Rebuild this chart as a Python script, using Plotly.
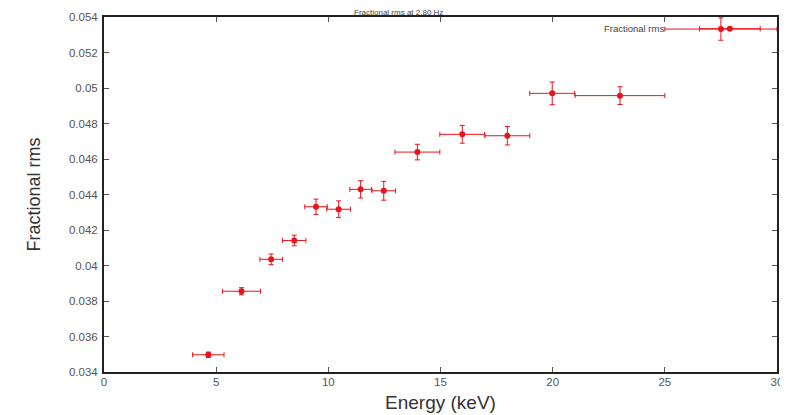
import plotly.graph_objects as go

# Data
energy = [4.65, 6.13, 7.45, 8.48, 9.45, 10.46, 11.44, 12.47, 13.97, 15.97, 17.98, 19.98, 23.0, 27.5]
energy_err = [0.7, 0.85, 0.5, 0.52, 0.5, 0.53, 0.48, 0.52, 1.0, 1.0, 1.0, 1.0, 2.0, 2.5]
frac_rms = [0.03497, 0.03855, 0.04035, 0.04141, 0.04331, 0.04317, 0.04429, 0.04421,
            0.04639, 0.04739, 0.04731, 0.04970, 0.04957, 0.05332]
frac_rms_err = [0.00015, 0.0002, 0.0003, 0.0003, 0.00043, 0.00047, 0.00049, 0.00053,
                0.00044, 0.0005, 0.00052, 0.00064, 0.0005, 0.00063]

x_ticks = [0, 5, 10, 15, 20, 25, 30]
y_ticks = [0.034, 0.036, 0.038, 0.04, 0.042, 0.044, 0.046, 0.048, 0.05, 0.052, 0.054]
y_tick_labels = ["0.034", "0.036", "0.038", "0.04", "0.042", "0.044", "0.046",
                 "0.048", "0.05", "0.052", "0.054"]

RED = "#e8141c"
FONT = "Liberation Sans"

fig = go.Figure()
fig.add_trace(go.Scatter(
    x=energy, y=frac_rms,
    mode="markers",
    marker=dict(color=RED, size=6, symbol="circle"),
    error_x=dict(type="data", array=energy_err, color=RED, thickness=1, width=2.5),
    error_y=dict(type="data", array=frac_rms_err, color=RED, thickness=1, width=2.5),
    name="Fractional rms",
    showlegend=False,
))

# key (gnuplot style: text then sample)
key_y = 0.967
fig.add_annotation(text="Fractional rms", xref="paper", yref="paper",
                   x=0.835, y=key_y, xanchor="right", yanchor="middle",
                   showarrow=False, font=dict(family=FONT, size=9.5, color="#444"))
fig.add_shape(type="line", xref="paper", yref="paper", x0=0.885, x1=0.975, y0=key_y, y1=key_y,
              line=dict(color=RED, width=1))
for xx in (0.885, 0.975):
    fig.add_shape(type="line", xref="paper", yref="paper", x0=xx, x1=xx,
                  y0=key_y - 0.008, y1=key_y + 0.008, line=dict(color=RED, width=1))
fig.add_shape(type="circle", xref="paper", yref="paper", x0=0.9255, x1=0.9345,
              y0=key_y - 0.0085, y1=key_y + 0.0085, fillcolor=RED, line=dict(color=RED, width=0))

# title in the narrow strip above the plot
fig.add_annotation(text="Fractional rms at 2.80 Hz", xref="paper", yref="paper",
                   x=0.438, y=1.0, xanchor="center", yanchor="middle", yshift=5,
                   showarrow=False, font=dict(family=FONT, size=8, color="#444"))

axis_common = dict(
    showline=True, linecolor="#222", linewidth=2, mirror="ticks",
    ticks="inside", ticklen=5, tickcolor="#555", tickwidth=1,
    showgrid=False, zeroline=False, automargin=False,
    tickfont=dict(family=FONT, size=11.5, color="#555"),
)

fig.update_xaxes(range=[0, 30], tickvals=x_ticks, ticklabelstandoff=-2,
                 title=dict(text="Energy (keV)", font=dict(family=FONT, size=19, color="#333"),
                            standoff=9),
                 **axis_common)
fig.update_yaxes(range=[0.034, 0.054], tickvals=y_ticks, ticktext=y_tick_labels,
                 ticklabelstandoff=2,
                 title=dict(text="Fractional rms", font=dict(family=FONT, size=18, color="#333"),
                            standoff=24),
                 **axis_common)

# the page adds an 8px body margin, so the figure is sized to fit the 788x415 window
fig.update_layout(
    width=780, height=407,
    margin=dict(l=96, r=11, t=9, b=43),
    paper_bgcolor="white", plot_bgcolor="white",
    font=dict(family=FONT),
)

fig.write_html("out.html")
